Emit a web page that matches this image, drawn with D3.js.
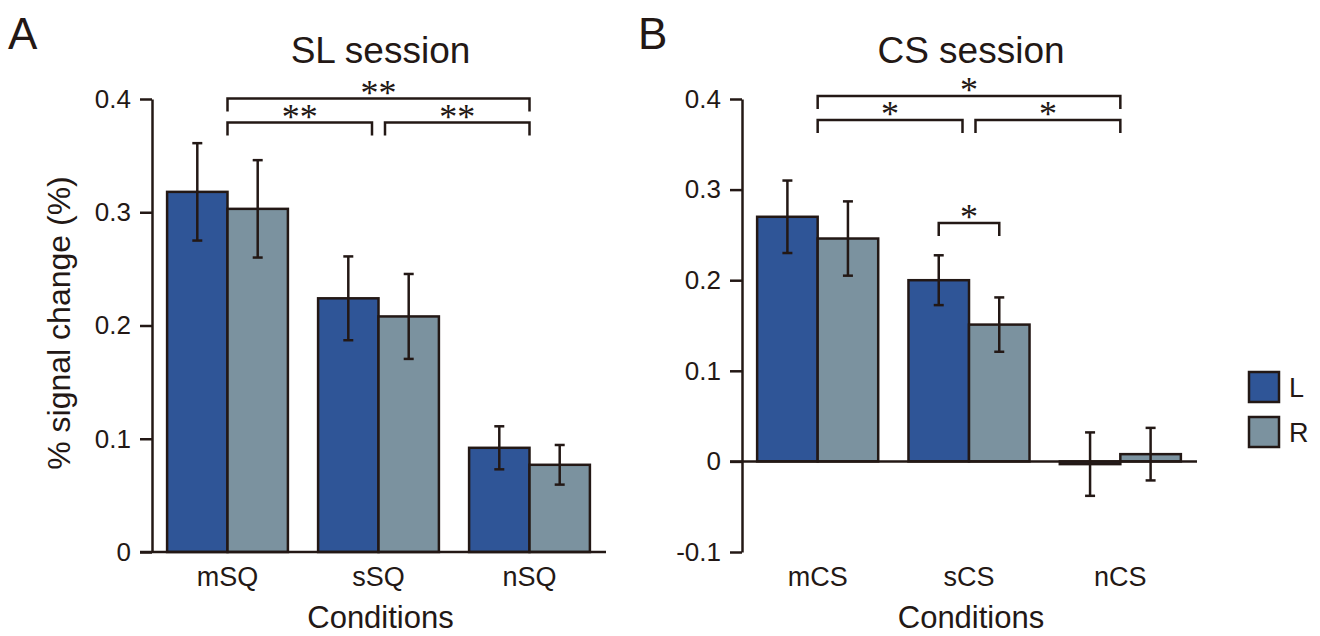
<!DOCTYPE html>
<html lang="en">
<head>
<meta charset="UTF-8">
<title>SL / CS session</title>
<style>
    body { margin: 0; background: #fff; }
    svg text { font-family: "Liberation Sans", Arial, sans-serif; fill: #231815; }
    .axis path, .axis line { stroke: #231815; stroke-width: 2.5px; }
    .axis text { font-size: 26px; }
    .bar { stroke: #231815; stroke-width: 2.5px; }
    .err { stroke: #231815; stroke-width: 2.5px; fill: none; }
    .bracket { stroke: #231815; stroke-width: 2.5px; fill: none; }
    svg text.star { font-family: "Liberation Serif", "DejaVu Serif", serif; font-size: 36px; }
</style>
</head>
<body>
<svg id="chart" width="1320" height="636"></svg>
<script src="https://d3js.org/d3.v7.min.js"></script>
<script>
// data
const sides = ['L', 'R'];
const colors = {L: '#2f5597', R: '#7b929f'};

const slConds = ['mSQ', 'sSQ', 'nSQ'];
const slL = [0.318, 0.224, 0.092];
const slR = [0.303, 0.208, 0.077];
const slLErr = [0.043, 0.037, 0.019];
const slRErr = [0.043, 0.0375, 0.0175];
const slTicks = [0, 0.1, 0.2, 0.3, 0.4];

const csConds = ['mCS', 'sCS', 'nCS'];
const csL = [0.270, 0.200, -0.003];
const csR = [0.246, 0.151, 0.008];
const csLErr = [0.040, 0.0275, 0.035];
const csRErr = [0.041, 0.030, 0.029];
const csTicks = [-0.1, 0, 0.1, 0.2, 0.3, 0.4];

// significance brackets: level 0 = top row, 1 = second row
const slSig = [
    {from: 'mSQ', to: 'nSQ', level: 0, label: '**'},
    {from: 'mSQ', to: 'sSQ', level: 1, label: '**'},
    {from: 'sSQ', to: 'nSQ', level: 1, label: '**'}
];
const csSig = [
    {from: 'mCS', to: 'nCS', level: 0, label: '*'},
    {from: 'mCS', to: 'sCS', level: 1, label: '*'},
    {from: 'sCS', to: 'nCS', level: 1, label: '*'}
];

const svg = d3.select('#chart');

function rows(conds, L, R, LE, RE) {
    return conds.map((c, i) => ({
        cond: c,
        vals: [{side: 'L', v: L[i], e: LE[i]}, {side: 'R', v: R[i], e: RE[i]}]
    }));
}

function bracket(g, xa, xb, yb, label) {
    g.append('path').attr('class', 'bracket')
        .attr('d', `M${xa},${yb + 13}V${yb}H${xb}V${yb + 13}`);
    g.append('text').attr('class', 'star')
        .attr('x', (xa + xb) / 2).attr('y', yb + 6)
        .attr('text-anchor', 'middle')
        .text(label);
}

function drawPanel(opt) {
    const g = svg.append('g');
    const x = d3.scaleBand().domain(opt.conds).range(opt.xr).paddingInner(0.2).paddingOuter(0.1);
    const x1 = d3.scaleBand().domain(sides).range([0, x.bandwidth()]);
    const y = d3.scaleLinear().domain(opt.ydom).range([552, 99]);
    const data = rows(opt.conds, opt.L, opt.R, opt.LE, opt.RE);

    // bars
    const grp = g.selectAll('.grp').data(data).enter().append('g')
        .attr('transform', d => `translate(${x(d.cond)},0)`);
    grp.selectAll('rect').data(d => d.vals).enter().append('rect')
        .attr('class', 'bar')
        .attr('x', d => x1(d.side))
        .attr('width', x1.bandwidth())
        .attr('y', d => y(Math.max(0, d.v)))
        .attr('height', d => Math.abs(y(d.v) - y(0)))
        .attr('fill', d => colors[d.side]);

    // error bars
    const eb = grp.selectAll('.eb').data(d => d.vals).enter().append('g')
        .attr('transform', d => `translate(${x1(d.side) + x1.bandwidth() / 2},0)`);
    eb.append('line').attr('class', 'err')
        .attr('y1', d => y(d.v + d.e)).attr('y2', d => y(d.v - d.e));
    eb.append('line').attr('class', 'err').attr('x1', -5).attr('x2', 5)
        .attr('y1', d => y(d.v + d.e)).attr('y2', d => y(d.v + d.e));
    eb.append('line').attr('class', 'err').attr('x1', -5).attr('x2', 5)
        .attr('y1', d => y(d.v - d.e)).attr('y2', d => y(d.v - d.e));

    // y axis
    g.append('g').attr('class', 'axis')
        .attr('transform', `translate(${opt.xr[0]},0)`)
        .call(d3.axisLeft(y).tickValues(opt.ticks).tickSize(12).tickSizeOuter(0).tickPadding(9)
            .tickFormat(d => d === 0 ? '0' : d3.format('.1f')(d).replace('\u2212', '-')));

    // x baseline
    g.append('line').attr('class', 'bracket')
        .attr('x1', opt.xr[0] - 12).attr('x2', opt.xr[1] + 1)
        .attr('y1', y(0)).attr('y2', y(0));

    // category labels
    g.selectAll('.cat').data(opt.conds).enter().append('text')
        .attr('x', d => x(d) + x.bandwidth() / 2)
        .attr('y', 586)
        .attr('text-anchor', 'middle')
        .style('font-size', '27px')
        .text(d => d);

    g.append('text')
        .attr('x', (opt.xr[0] + opt.xr[1]) / 2 + 2).attr('y', 628)
        .attr('text-anchor', 'middle').style('font-size', '31px')
        .text('Conditions');

    g.append('text')
        .attr('x', (opt.xr[0] + opt.xr[1]) / 2 + 2).attr('y', 63)
        .attr('text-anchor', 'middle').style('font-size', '37px')
        .text(opt.title);

    g.append('text')
        .attr('x', opt.letterX).attr('y', 49)
        .style('font-size', '44px')
        .text(opt.letter);

    // brackets between conditions
    const cx = c => x(c) + x.bandwidth() / 2;
    opt.sig.forEach(s => {
        let xa = cx(s.from), xb = cx(s.to);
        if (s.level === 1) {
            if (s.from === opt.conds[1]) xa += 6.5;
            if (s.to === opt.conds[1]) xb -= 6.5;
        }
        bracket(g, xa, xb, opt.sigTop + s.level * 24, s.label);
    });

    return {g, x, x1, y};
}

drawPanel({
    conds: slConds, L: slL, R: slR, LE: slLErr, RE: slRErr,
    xr: [152, 605], ydom: [0, 0.4], ticks: slTicks,
    title: 'SL session', letter: 'A', letterX: 8,
    sig: slSig, sigTop: 98.5
});

const pB = drawPanel({
    conds: csConds, L: csL, R: csR, LE: csLErr, RE: csRErr,
    xr: [742, 1196], ydom: [-0.1, 0.4], ticks: csTicks,
    title: 'CS session', letter: 'B', letterX: 638,
    sig: csSig, sigTop: 96
});

// within-sCS bracket (L vs R)
{
    const {g, x, x1} = pB;
    const xa = x('sCS') + x1('L') + x1.bandwidth() / 2;
    const xb = x('sCS') + x1('R') + x1.bandwidth() / 2;
    bracket(g, xa, xb, 223, '*');
}

// y axis title for panel A
svg.append('text')
    .attr('transform', 'translate(70,323) rotate(-90)')
    .attr('text-anchor', 'middle')
    .style('font-size', '32px')
    .text('% signal change (%)');

// legend
const leg = svg.append('g').attr('transform', 'translate(1249,372)');
sides.forEach((s, i) => {
    leg.append('rect').attr('class', 'bar')
        .attr('x', 0).attr('y', i * 45).attr('width', 30).attr('height', 30)
        .attr('fill', colors[s]);
    leg.append('text').attr('x', 40).attr('y', i * 45 + 25)
        .style('font-size', '27px').text(s);
});
</script>
</body>
</html>
